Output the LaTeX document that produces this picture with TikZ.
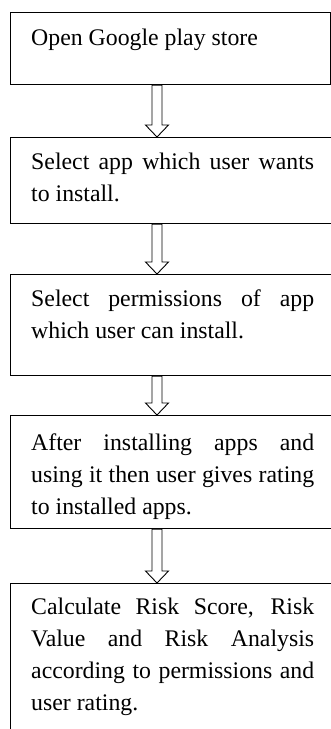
\documentclass[tikz,border=0pt]{standalone}
\usepackage{fontspec}
\setmainfont{Liberation Serif}
\usetikzlibrary{calc}

\tikzset{
  stepbox/.style={draw, line width=1.1pt, rectangle, inner sep=0pt, anchor=north west},
  steptext/.style={inner sep=0pt, anchor=base west, text width=283pt, align=justify,
    font=\fontsize{23.8}{32}\selectfont},
  hollow/.style={draw, line width=0.9pt, line join=miter}
}

% hollow block arrow from the bottom of one box to the top of the next
% #1 = start point, #2 = tip point
\newcommand{\blockarrow}[2]{%
  \draw[hollow] ($(#1)+(-5,0)$) -- ($(#2)+(-5,-12)$) -- ($(#2)+(-11.5,-12)$)
    -- (#2) -- ($(#2)+(11.5,-12)$) -- ($(#2)+(5,-12)$) -- ($(#1)+(5,0)$) -- cycle;}

\begin{document}
\begin{tikzpicture}[x=1pt, y=-1pt]
  \useasboundingbox (0,0) rectangle (331,729);
  \clip (0,0) rectangle (331,729);

  % process boxes
  \node[stepbox, minimum width=320pt, minimum height=72pt]  (b1) at (10,12)  {};
  \node[stepbox, minimum width=340pt, minimum height=86pt]  (b2) at (10,137) {};
  \node[stepbox, minimum width=340pt, minimum height=101pt] (b3) at (10,274) {};
  \node[stepbox, minimum width=340pt, minimum height=113pt] (b4) at (10,415) {};
  \node[stepbox, minimum width=340pt, minimum height=170pt] (b5) at (10,583) {};

  % box texts
  \node[steptext] (t1) at (31,45)  {Open Google play store};
  \node[steptext] (t2) at (31,169) {Select app which user wants\linebreak to install.};
  \node[steptext] (t3) at (31,306) {Select permissions of app\linebreak which user can install.};
  \node[steptext] (t4) at (31,450) {After installing apps and\linebreak using it then user gives rating\linebreak to installed apps.};
  \node[steptext] (t5) at (31,614) {Calculate Risk Score, Risk\linebreak Value and Risk Analysis\linebreak according to permissions and\linebreak user rating.};

  % hollow block arrows between the steps
  \coordinate (ax) at (157,0);
  \blockarrow{b1.south -| ax}{b2.north -| ax}
  \blockarrow{b2.south -| ax}{b3.north -| ax}
  \blockarrow{b3.south -| ax}{b4.north -| ax}
  \blockarrow{b4.south -| ax}{b5.north -| ax}
\end{tikzpicture}
\end{document}
